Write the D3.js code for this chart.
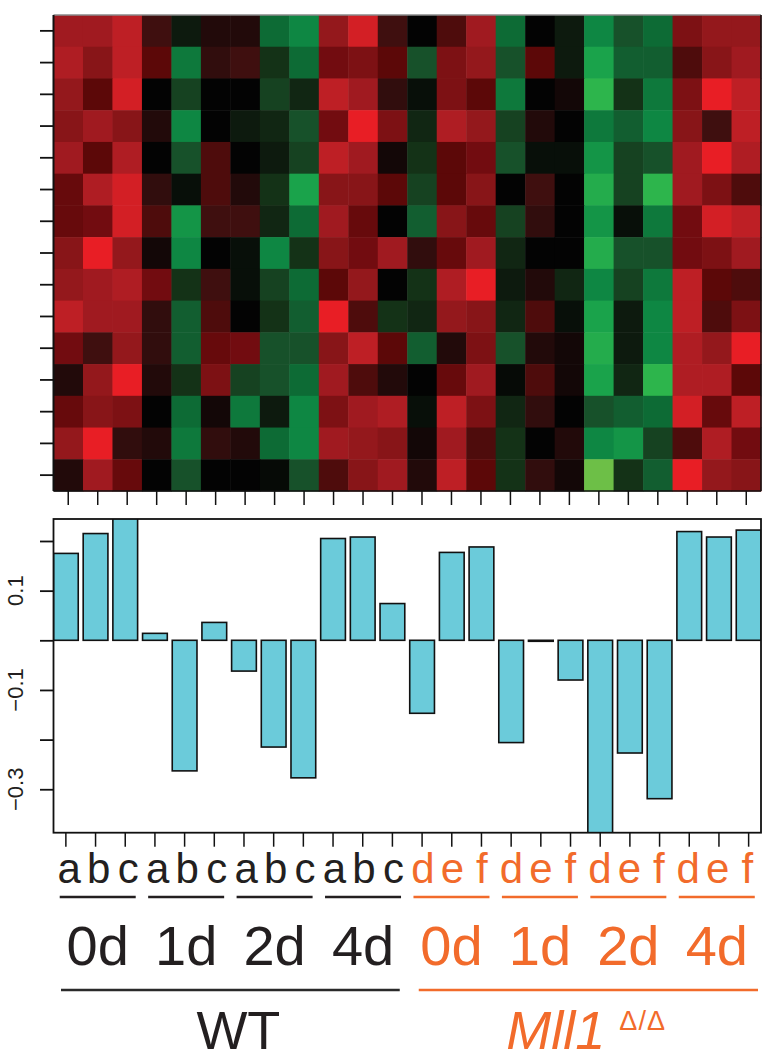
<!DOCTYPE html>
<html>
<head>
<meta charset="utf-8">
<script src="https://cdn.jsdelivr.net/npm/d3@7"></script>
<style>
  html, body { margin: 0; padding: 0; background: #fff; }
  svg { display: block; }
  text { font-family: "Liberation Sans", Arial, Helvetica, sans-serif; }
</style>
</head>
<body>
<svg id="chart" width="762" height="1062"></svg>
<script>
// ---------------- DATA ----------------
const sampleLetters = ["a","b","c","a","b","c","a","b","c","a","b","c",
                       "d","e","f","d","e","f","d","e","f","d","e","f"];
const timeLabels = ["0d","1d","2d","4d","0d","1d","2d","4d"];
const genotypeLabels = ["WT", "Mll1"];
const genotypeSuffix = ["", "\u0394/\u0394"];
const barValues = [0.175, 0.215, 0.26, 0.014, -0.263, 0.036, -0.062, -0.215, -0.277,
                   0.205, 0.208, 0.074, -0.147, 0.177, 0.188, -0.206, -0.002, -0.080,
                   -0.42, -0.227, -0.319, 0.219, 0.208, 0.222];
const yTickValues = [-0.3, -0.2, -0.1, 0, 0.1, 0.2];
const yTickLabels = ["\u22120.3", "", "\u22120.1", "", "0.1", ""];

// heatmap levels (negative = green, positive = red), 15 genes x 24 samples
const heatRow01 = [6,6,7,2,-1,1,1,-4,-5,5.5,7.5,2, 0,2.5,6,-4,0,-1,-5,-3,-4,4.5,5.5,5.5];
const heatRow02 = [6.5,5,7,3,-4.5,1.5,2,-2,-4,4,4.5,3, -3,4.5,5.5,-3,3,-1,-6,-3.5,-3.5,2.5,5,6];
const heatRow03 = [5.5,3,7.5,0,-2.5,0,0,-2.5,-1.5,7,6,1.5, -0.5,4.5,3,-4.5,0,0.5,-7,-2,-4.5,4.5,8,7];
const heatRow04 = [5,6,5,1,-5,0,-1,-1.5,-3,4,8,4.5, -1.5,6.5,5.5,-2.5,1,0,-4.5,-3.5,-5,5,2,7];
const heatRow05 = [6,3,6.5,0,-3,2.5,0,-1,-2.5,7,6,0.5, -2,3,4,-3,-0.5,-0.5,-5.5,-2.5,-3,6,8,6.5];
const heatRow06 = [3.5,6.5,7.5,1.5,-0.5,2.5,1,-2,-6,5,5,3, -2.5,3,5,0,2,0,-6.5,-2.5,-7,6,4.5,2.5];
const heatRow07 = [3.5,4,7.5,2.5,-5.5,2,2,-1.5,-4,6,3.5,0, -3.5,5,3.5,-2.5,1.5,0,-5.5,-0.5,-4.5,4,7.5,7];
const heatRow08 = [5,8,5.5,0.5,-5,0,-0.5,-5,-2,5,4,6, 1.5,3.5,6,-1.5,0,0,-6.5,-3,-3,4,4.5,6];
const heatRow09 = [5.5,6,6.5,4,-2,2,-0.5,-2.5,-4,3,5.5,0, -2,6.5,8,-1,1,-1.5,-5,-2.5,-4.5,7,3,2.5];
const heatRow10 = [7,6,6,1.5,-3.5,2.5,0,-2,-3.5,8,2.5,-2, -1.5,5.5,5,-1.5,2.5,-0.5,-6,-1,-5,7,2.5,4.5];
const heatRow11 = [4,2,5.5,1.5,-3.5,3.5,4,-3,-3,5,7,3, -3.5,1,4.5,-3,1,0.5,-6.5,-1,-5,6.5,5.5,8];
const heatRow12 = [1,5.5,8,1,-2,4.5,-2.5,-3,-4,6,2.5,1, 0,3.5,6,-0.3,2.5,0.5,-6,-1.5,-7,6.5,6.5,3];
const heatRow13 = [3.5,5,4.5,0,-4,0.5,-4.5,-1,-5,4.5,6,6.5, -0.5,7,4.5,-1.5,1.5,0,-3,-3.5,-4,7.5,3.5,7];
const heatRow14 = [5.5,8,1.5,1,-4.5,1.5,1,-4,-5,6,5.5,5, 0.5,6,2.5,-2,0,1,-5,-5.5,-2.5,2.5,6.5,4];
const heatRow15 = [1,6,3.5,0,-3,0,0,-0.3,-3,2.5,5,6, 1,7,3,-2,1.5,0.5,-8,-2,-3.5,8,5.5,5];
const heatRows = [heatRow01, heatRow02, heatRow03, heatRow04, heatRow05, heatRow06, heatRow07,
                  heatRow08, heatRow09, heatRow10, heatRow11, heatRow12, heatRow13, heatRow14, heatRow15];

// ---------------- STYLE ----------------
const colorLevels = [-8,-7,-6,-5,-4,-3,-2,-1,0,1,2,3,4,5,6,7,8];
const colorStops = ["#6DBF47","#2DB54C","#1AA34B","#0E8743","#0D6B35","#17512A","#143217","#0D1A0E",
                    "#030303","#220A0A","#3F0F0F","#5C0808","#720C10","#881518","#A01A20","#BE1F25","#E81E25"];
const dark = "#231F20";
const orange = "#F26B2B";
const groupColor = i => (i < 12 ? dark : orange);

// ---------------- LAYOUT ----------------
const svg = d3.select("#chart");
const L = 53.5, R = 761;
const heatTop = 15, heatBottom = 491;
const barTop = 519, barBottom = 832.7;

const nCols = sampleLetters.length;
const xHeat = d3.scaleBand().domain(d3.range(nCols)).range([L, R]);
const yHeat = d3.scaleBand().domain(d3.range(heatRows.length)).range([heatTop, heatBottom]);
const color = d3.scaleLinear().domain(colorLevels).range(colorStops).clamp(true);

// Heatmap cells
const cells = [];
heatRows.forEach((row, r) => row.forEach((v, c) => cells.push({r, c, v})));
svg.append("g").selectAll("rect").data(cells).join("rect")
  .attr("x", d => xHeat(d.c))
  .attr("y", d => yHeat(d.r))
  .attr("width", xHeat.bandwidth() + 0.5)
  .attr("height", yHeat.bandwidth() + 0.5)
  .attr("fill", d => color(d.v));

// Heatmap frame
svg.append("line").attr("x1", L).attr("x2", R).attr("y1", heatTop).attr("y2", heatTop)
  .attr("stroke", "#8a8a8a").attr("stroke-width", 1.5);
svg.append("line").attr("x1", L).attr("x2", L).attr("y1", heatTop).attr("y2", heatBottom)
  .attr("stroke", "#111").attr("stroke-width", 2);
svg.append("line").attr("x1", R).attr("x2", R).attr("y1", heatTop).attr("y2", heatBottom)
  .attr("stroke", "#111").attr("stroke-width", 1.5);
svg.append("line").attr("x1", L).attr("x2", R).attr("y1", heatBottom).attr("y2", heatBottom)
  .attr("stroke", "#111").attr("stroke-width", 1.5);

// Heatmap left ticks (rows)
svg.append("g").selectAll("line").data(d3.range(heatRows.length)).join("line")
  .attr("x1", L - 13.5).attr("x2", L)
  .attr("y1", d => yHeat(d) + yHeat.bandwidth() / 2)
  .attr("y2", d => yHeat(d) + yHeat.bandwidth() / 2)
  .attr("stroke", "#111").attr("stroke-width", 1.8);
// Heatmap bottom ticks (columns)
svg.append("g").selectAll("line").data(d3.range(nCols)).join("line")
  .attr("x1", d => xHeat(d) + xHeat.bandwidth() / 2)
  .attr("x2", d => xHeat(d) + xHeat.bandwidth() / 2)
  .attr("y1", heatBottom).attr("y2", heatBottom + 14)
  .attr("stroke", "#111").attr("stroke-width", 1.5);

// ---------------- BARPLOT ----------------
const xBar = d3.scaleBand().domain(d3.range(nCols)).range([L, R]).paddingInner(1/6).paddingOuter(0);
const yBar = d3.scaleLinear().domain([-0.3875, 0.2443]).range([barBottom, barTop]);

svg.append("defs").append("clipPath").attr("id", "barclip")
  .append("rect").attr("x", L).attr("y", barTop).attr("width", R - L).attr("height", barBottom - barTop);

svg.append("g").attr("clip-path", "url(#barclip)")
  .selectAll("rect").data(barValues).join("rect")
  .attr("x", (d, i) => xBar(i))
  .attr("width", xBar.bandwidth())
  .attr("y", d => yBar(Math.max(0, d)))
  .attr("height", d => Math.abs(yBar(d) - yBar(0)))
  .attr("fill", "#6BCBDA")
  .attr("stroke", "#111")
  .attr("stroke-width", 1.6);

// Bar box
svg.append("rect").attr("x", L).attr("y", barTop).attr("width", R - L).attr("height", barBottom - barTop)
  .attr("fill", "none").attr("stroke", "#111").attr("stroke-width", 1.8);

// Y axis
const yAxis = d3.axisLeft(yBar).tickValues(yTickValues).tickSize(13.5).tickFormat("");
const yg = svg.append("g").attr("transform", `translate(${L},0)`).call(yAxis);
yg.select(".domain").remove();
yg.selectAll(".tick line").attr("stroke", "#111").attr("stroke-width", 1.8);
svg.append("g").selectAll("text").data(yTickValues).join("text")
  .attr("transform", d => `translate(23,${yBar(d)}) rotate(-90)`)
  .attr("text-anchor", "middle")
  .attr("font-size", 22)
  .attr("fill", dark)
  .text((d, i) => yTickLabels[i]);

// Bar bottom ticks
svg.append("g").selectAll("line").data(d3.range(nCols)).join("line")
  .attr("x1", d => xBar(d) + xBar.bandwidth() / 2)
  .attr("x2", d => xBar(d) + xBar.bandwidth() / 2)
  .attr("y1", barBottom).attr("y2", barBottom + 14)
  .attr("stroke", "#111").attr("stroke-width", 1.5);

// ---------------- LABELS ----------------
const colCenter = i => xHeat(i) + xHeat.bandwidth() / 2;

svg.append("g").selectAll("text").data(sampleLetters).join("text")
  .attr("x", (d, i) => colCenter(i) + 1)
  .attr("y", 883)
  .attr("text-anchor", "middle")
  .attr("font-size", 42)
  .attr("fill", (d, i) => groupColor(i))
  .text(d => d);

// group underlines and time labels
const groups = d3.range(timeLabels.length);
svg.append("g").selectAll("line").data(groups).join("line")
  .attr("x1", g => colCenter(g * 3 + 1) - 38)
  .attr("x2", g => colCenter(g * 3 + 1) + 38)
  .attr("y1", 897).attr("y2", 897)
  .attr("stroke", g => groupColor(g * 3)).attr("stroke-width", 2.6);

svg.append("g").selectAll("text").data(groups).join("text")
  .attr("x", g => colCenter(g * 3 + 1))
  .attr("y", 965)
  .attr("text-anchor", "middle")
  .attr("font-size", 56)
  .attr("fill", g => groupColor(g * 3))
  .text(g => timeLabels[g]);

// genotype lines
const geno = [0, 1];
svg.append("g").selectAll("line").data(geno).join("line")
  .attr("x1", k => xHeat(k * 12) + (k === 0 ? 7.5 : 11.5))
  .attr("x2", k => xHeat(k * 12 + 11) + xHeat.bandwidth() - (k === 0 ? 7.5 : 3))
  .attr("y1", 990).attr("y2", 990)
  .attr("stroke", k => (k === 0 ? "#2a2a2a" : orange)).attr("stroke-width", 2.4);

// genotype labels
const gCenter = k => (xHeat(k * 12) + xHeat(k * 12 + 11) + xHeat.bandwidth()) / 2;
svg.append("text")
  .attr("x", gCenter(0) + 8).attr("y", 1049)
  .attr("text-anchor", "middle").attr("font-size", 54).attr("fill", dark)
  .text(genotypeLabels[0]);
const mll = svg.append("text")
  .attr("x", gCenter(1) + 2).attr("y", 1049)
  .attr("text-anchor", "middle").attr("fill", orange);
mll.append("tspan").attr("font-size", 54).attr("font-style", "italic").text(genotypeLabels[1]);
mll.append("tspan").attr("font-size", 27).attr("dx", 14).attr("dy", -19)
  .attr("letter-spacing", 1).text(genotypeSuffix[1]);
</script>
</body>
</html>
